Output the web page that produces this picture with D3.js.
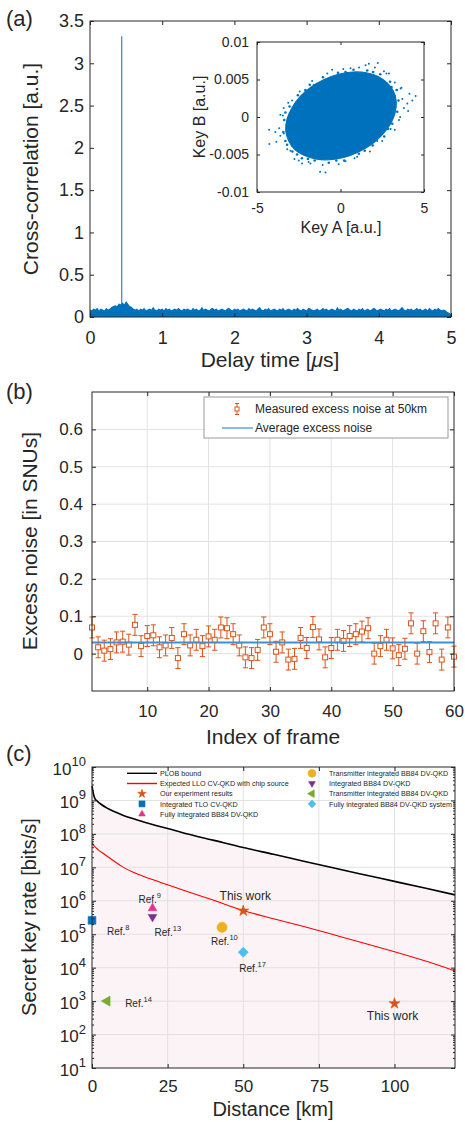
<!DOCTYPE html>
<html>
<head>
<meta charset="utf-8">
<script src="https://cdn.jsdelivr.net/npm/d3@7"></script>
<style>
  body { margin: 0; background: #fff; }
  svg text { font-family: "Liberation Sans", Arial, Helvetica, sans-serif; fill: #262626; }
</style>
</head>
<body>
<svg id="fig" width="465" height="1122"></svg>
<script>
// ---------- (a) cross-correlation ----------
const delayStep = 0.025; // us between band samples
const crossCorrBand = [
  0.09,0.08,0.10,0.09,0.11,0.08,0.10,0.09,0.08,0.11,0.09,0.10,0.12,
  0.13,0.14,0.13,0.16,0.15,0.17,0.15,0.19,0.16,0.13,0.12,0.10,
  0.09,0.10,0.08,0.10,0.09,0.11,0.08,0.09,0.10,0.09,0.12,0.09,0.08,0.10,0.09,0.10,0.08,0.11,0.09,0.10,
  0.08,0.09,0.10,0.09,0.11,0.09,0.08,0.10,0.09,0.10,0.09,0.08,0.11,0.09,0.10,0.08,0.09,0.12,0.09,0.10,
  0.09,0.08,0.10,0.11,0.09,0.10,0.08,0.09,0.10,0.09,0.08,0.10,0.11,0.09,0.08,0.10,0.09,0.10,0.08,0.09,
  0.10,0.09,0.08,0.11,0.09,0.10,0.09,0.08,0.10,0.12,0.09,0.08,0.10,0.09,0.11,0.08,0.09,0.10,0.09,0.08,
  0.10,0.09,0.11,0.08,0.09,0.10,0.09,0.08,0.10,0.09,0.11,0.09,0.08,0.10,0.09,0.08,0.11,0.10,0.09,0.08,
  0.09,0.10,0.08,0.09,0.11,0.09,0.10,0.08,0.09,0.10,0.09,0.08,0.12,0.09,0.10,0.08,0.09,0.10,0.11,0.09,
  0.08,0.10,0.09,0.08,0.10,0.09,0.11,0.08,0.09,0.10,0.08,0.09,0.11,0.10,0.08,0.09,0.10,0.09,0.08,0.10,
  0.09,0.11,0.08,0.09,0.10,0.09,0.08,0.10,0.12,0.09,0.08,0.10,0.09,0.10,0.08,0.09,0.11,0.09,0.10,0.08,
  0.09,0.10,0.08,0.11,0.09,0.08,0.10,0.09,0.11,0.09,0.08,0.09,
  0.08,0.06,0.05,0.03
];
const peakDelay = 0.44;
const peakValue = 3.32;
const xTicksA = [0, 1, 2, 3, 4, 5];
const yTicksA = [0, 0.5, 1, 1.5, 2, 2.5, 3, 3.5];

// inset: outline of the dense cloud + the loose dots around it
const cloudEdge = [
  [3.18,0.0034],[3.34,0.0020],[3.26,0.0005],[2.97,-0.0010],[2.48,-0.0024],[1.82,-0.0037],
  [1.04,-0.0047],[0.19,-0.0054],[-0.67,-0.0057],[-1.48,-0.0056],[-2.19,-0.0051],[-2.75,-0.0043],
  [-3.12,-0.0031],[-3.28,-0.0018],[-3.20,-0.0003],[-2.91,0.0012],[-2.42,0.0027],[-1.76,0.0040],
  [-0.98,0.0050],[-0.13,0.0057],[0.73,0.0060],[1.54,0.0059],[2.25,0.0054],[2.81,0.0045]
];
const cloudFringe = [
  [3.36,0.0036],[3.47,0.0022],[3.40,0.0007],[3.10,-0.0009],[2.62,-0.0026],[1.93,-0.0038],
  [1.10,-0.0049],[0.22,-0.0058],[-0.70,-0.0061],[-1.55,-0.0058],[-2.31,-0.0055],[-2.88,-0.0046],
  [-3.30,-0.0032],[-3.42,-0.0020],[-3.37,-0.0004],[-3.05,0.0014],[-2.55,0.0029],[-1.84,0.0043],
  [-1.05,0.0053],[-0.15,0.0059],[0.78,0.0063],[1.60,0.0062],[2.38,0.0057],[2.97,0.0047],
  [3.25,0.0028],[2.85,-0.0016],[1.45,-0.0045],[-0.25,-0.0058],[-1.95,-0.0056],[-3.20,-0.0037],
  [-3.30,0.0006],[-2.10,0.0036],[0.30,0.0060],[1.95,0.0060],[3.05,0.0040],[-2.60,-0.0050]
];
const cloudOutliers = [
  [3.65,0.0039],[4.13,0.0031],[4.0,0.0018],[3.57,0.0000],[3.25,-0.0017],[2.5,-0.0032],[1.76,-0.0046],
  [0.84,-0.0055],[-0.11,-0.0063],[-1.07,-0.0064],[-1.22,-0.0073],[-1.91,-0.0060],[-2.76,-0.0056],
  [-3.19,-0.0043],[-3.84,-0.0033],[-4.26,-0.0036],[-3.67,-0.0015],[-4.27,-0.0017],[-3.45,0.0002],
  [-3.13,0.0019],[-2.44,0.0034],[-1.7,0.0048],[-0.79,0.0058],[0.17,0.0064],[1.11,0.0066],[2.06,0.0066],
  [2.23,0.0072],[2.75,0.0058],[3.25,0.0046],[4.5,0.0028],[4.05,0.0008],[-0.9,-0.0074],[1.7,0.0071],
  [-3.9,-0.0020],[-3.6,0.0003],[-3.4,0.0012],[-2.5,-0.0058],[-2.3,-0.0062],[-1.6,0.0043],[-0.5,0.0063],
  [0.6,0.0065],[1.5,0.0069],[2.9,0.0058],[3.6,0.0038],[3.7,0.0024],[3.8,0.0012],[4.3,0.0022],
  [3.5,-0.0004],[3.0,-0.0016],[2.2,-0.0032],[1.0,-0.0053],[0.3,-0.0059],[-1.8,-0.0062],[-2.9,0.0022],
  [-3.6,-0.0025],[-3.0,-0.0045],[-2.1,0.0035],[3.4,0.0036],[2.6,0.0061],[-3.4,-0.0022]
];
const insetXTicks = [-5, 0, 5];
const insetYTicks = [-0.01, -0.005, 0, 0.005, 0.01];

// ---------- (b) excess noise per frame ----------
const frameNoise = [
  0.070,0.017,0.008,0.012,0.030,0.032,0.024,0.077,0.020,0.047,
  0.049,0.017,0.022,0.042,-0.012,0.052,0.022,0.037,0.020,0.046,
  0.037,0.070,0.068,0.052,0.022,-0.010,-0.012,0.010,0.070,0.052,
  0.005,0.030,-0.016,-0.014,0.042,0.015,0.071,0.038,-0.010,0.015,
  0.037,0.034,0.047,0.052,0.059,0.068,0.000,0.020,0.037,0.014,
  -0.004,0.013,0.081,0.000,0.060,0.004,0.081,-0.016,0.070,-0.008
];
const noiseError = 0.028;
const averageNoise = 0.030;
const xTicksB = [10, 20, 30, 40, 50, 60];
const yTicksB = [0, 0.1, 0.2, 0.3, 0.4, 0.5, 0.6];

// ---------- (c) secret key rate vs distance ----------
const plobBound = [
  [0,2.7e9],[0.3,1.9e9],[0.6,1.4e9],[1,1.12e9],[1.5,1.0e9],[2,9.1e8],[3,7.7e8],[5,5.9e8],[7.5,4.6e8],
  [10,3.7e8],[15,2.6e8],[20,1.9e8],[25,1.45e8],[30,1.08e8],[40,6.5e7],[50,3.9e7],[60,2.45e7],
  [70,1.52e7],[80,9.5e6],[90,6.0e6],[100,3.8e6],[110,2.4e6],[120,1.5e6]
];
const expectedLLO = [
  [0,5.5e7],[0.5,4.6e7],[1,4.1e7],[2,3.4e7],[4,2.5e7],[7,1.6e7],[10,1.05e7],[15,6.3e6],[20,4.3e6],
  [25,3.0e6],[30,2.1e6],[40,1.05e6],[50,5.1e5],[60,2.9e5],[70,1.7e5],[80,9.6e4],[90,5.4e4],
  [100,3.0e4],[110,1.6e4],[120,8.0e3]
];
const thisWork = [[50, 5.0e5], [100, 8.5e2]];
const refPoints = [
  { ref: "8",  km: 0,  rate: 2.6e5, kind: "square",   color: "#0072BD" },
  { ref: "9",  km: 20, rate: 6.0e5, kind: "triUp",    color: "#E8318A" },
  { ref: "13", km: 20, rate: 3.3e5, kind: "triDown",  color: "#7E2F8E" },
  { ref: "10", km: 43, rate: 1.6e5, kind: "circle",   color: "#EDB120" },
  { ref: "17", km: 50, rate: 2.9e4, kind: "diamond",  color: "#4DBEEE" },
  { ref: "14", km: 5,  rate: 1.0e3, kind: "triLeft",  color: "#77AC30" }
];
const legendC = [
  { text: "PLOB bound", kind: "line", color: "#000000" },
  { text: "Expected LLO CV-QKD with chip source", kind: "line", color: "#FF0000" },
  { text: "Our experiment results", kind: "star", color: "#D95319" },
  { text: "Integrated TLO CV-QKD", kind: "square", color: "#0072BD" },
  { text: "Fully integrated BB84 DV-QKD", kind: "triUp", color: "#E8318A" },
  { text: "Transmitter integrated BB84 DV-QKD", kind: "circle", color: "#EDB120" },
  { text: "Integrated BB84 DV-QKD", kind: "triDown", color: "#7E2F8E" },
  { text: "Transmitter integrated BB84 DV-QKD", kind: "triLeft", color: "#77AC30" },
  { text: "Fully integrated BB84 DV-QKD system", kind: "diamond", color: "#4DBEEE" }
];
const xTicksC = [0, 25, 50, 75, 100];
const yExpC = [1, 2, 3, 4, 5, 6, 7, 8, 9, 10];

// ---------------------------------------------------------------
const INK = "#262626";
const GRID = "#e2e2e2";
const BLUE = "#0072BD";
const ORANGE = "#D95319";
const svg = d3.select("#fig");

// inward ticks on all four sides, labels on bottom and left, closed box
function frame(g, x, y, o) {
  const [xl, xr] = x.range();
  const [yb, yt] = y.range();
  const t = o.tick || 4;
  const bottom = g.append("g").attr("transform", `translate(0,${yb})`)
    .call(d3.axisBottom(x).tickValues(o.xTicks).tickSizeInner(-t).tickSizeOuter(0)
      .tickPadding(o.xPad).tickFormat(o.xLabels === false ? () => "" : (o.xFormat || String)));
  const left = g.append("g").attr("transform", `translate(${xl},0)`)
    .call(d3.axisLeft(y).tickValues(o.yTicks).tickSizeInner(-t).tickSizeOuter(0)
      .tickPadding(o.yPad).tickFormat(o.yLabels === false ? () => "" : (o.yFormat || String)));
  g.append("g").attr("transform", `translate(0,${yt})`)
    .call(d3.axisTop(x).tickValues(o.xTicks).tickSizeInner(-t).tickSizeOuter(0).tickFormat(() => ""));
  g.append("g").attr("transform", `translate(${xr},0)`)
    .call(d3.axisRight(y).tickValues(o.yTicks).tickSizeInner(-t).tickSizeOuter(0).tickFormat(() => ""));
  g.selectAll(".domain").remove();
  g.selectAll(".tick line").attr("stroke", INK);
  bottom.attr("font-size", o.font).attr("font-family", null);
  left.attr("font-size", o.font).attr("font-family", null);
  g.append("rect").attr("x", xl).attr("y", yt).attr("width", xr - xl).attr("height", yb - yt)
    .attr("fill", "none").attr("stroke", INK).attr("stroke-width", 1);
}

function yLabel(g, text, cx, cy, size) {
  g.append("text").attr("transform", `translate(${cx},${cy}) rotate(-90)`)
    .attr("text-anchor", "middle").attr("dy", "0.35em").attr("font-size", size).text(text);
}

function symbolPath(kind, size) {
  const map = {
    square: d3.symbolSquare, diamond: d3.symbolSquare, circle: d3.symbolCircle, star: d3.symbolStar,
    triUp: d3.symbolTriangle, triDown: d3.symbolTriangle, triLeft: d3.symbolTriangle
  };
  return d3.symbol(map[kind], size)();
}
const symbolTurn = { diamond: 45, triDown: 180, triLeft: -90 };
const symbolSize = { square: 60, diamond: 50, circle: 80, star: 38, triUp: 32, triDown: 32, triLeft: 44 };

function drawSymbol(g, kind, color, cx, cy, scale = 1) {
  g.append("path").attr("d", symbolPath(kind, symbolSize[kind] * scale))
    .attr("transform", `translate(${cx},${cy}) rotate(${symbolTurn[kind] || 0})`)
    .attr("fill", color).attr("stroke", color).attr("stroke-width", 0.6);
}

// ================= (a) =================
const gA = svg.append("g");
const xA = d3.scaleLinear().domain([0, 5]).range([90, 451]);
const yA = d3.scaleLinear().domain([0, 3.5]).range([317, 21]);

gA.append("path").datum(crossCorrBand)
  .attr("d", d3.area().x((d, i) => xA(i * delayStep)).y0(yA(0)).y1(d => yA(d)))
  .attr("fill", BLUE);
gA.append("line").attr("x1", xA(peakDelay)).attr("x2", xA(peakDelay))
  .attr("y1", yA(0)).attr("y2", yA(peakValue)).attr("stroke", BLUE).attr("stroke-width", 1);

frame(gA, xA, yA, { xTicks: xTicksA, yTicks: yTicksA, xPad: 14, yPad: 6, font: 18 });

const dl = gA.append("text").attr("x", 270).attr("y", 367).attr("text-anchor", "middle").attr("font-size", 21);
dl.append("tspan").text("Delay time [");
dl.append("tspan").attr("font-style", "italic").text("\u03bc");
dl.append("tspan").text("s]");
yLabel(gA, "Cross-correlation [a.u.]", 31, 169, 21);
gA.append("text").attr("x", 6).attr("y", 26).attr("font-size", 22).text("(a)");

// inset
const gI = svg.append("g");
const xI = d3.scaleLinear().domain([-5, 5]).range([257, 424]);
const yI = d3.scaleLinear().domain([-0.01, 0.01]).range([192, 42]);
gI.append("rect").attr("x", 257).attr("y", 42).attr("width", 167).attr("height", 150).attr("fill", "#fff");
gI.append("path").datum(cloudEdge)
  .attr("d", d3.line().x(d => xI(d[0])).y(d => yI(d[1])).curve(d3.curveCatmullRomClosed))
  .attr("fill", BLUE).attr("stroke", BLUE).attr("stroke-width", 1.2);
gI.selectAll("circle.fr").data(cloudFringe).join("circle")
  .attr("cx", d => xI(d[0])).attr("cy", d => yI(d[1])).attr("r", 1.3).attr("fill", BLUE);
gI.selectAll("circle.out").data(cloudOutliers, d => d).join("circle")
  .attr("cx", d => xI(d[0])).attr("cy", d => yI(d[1])).attr("r", 1).attr("fill", BLUE);
frame(gI, xI, yI, { xTicks: insetXTicks, yTicks: insetYTicks, xPad: 11, yPad: 8, font: 14, tick: 3 });
gI.append("text").attr("x", 341).attr("y", 233).attr("text-anchor", "middle").attr("font-size", 16).text("Key A [a.u.]");
yLabel(gI, "Key B [a.u.]", 199, 117, 16);

// ================= (b) =================
const gB = svg.append("g");
const xB = d3.scaleLinear().domain([1, 60]).range([92, 454]);
const yB = d3.scaleLinear().domain([-0.1, 0.7]).range([691, 392]);

gB.selectAll("line.gx").data(xTicksB.slice(0, -1)).join("line")
  .attr("x1", d => xB(d)).attr("x2", d => xB(d)).attr("y1", 392).attr("y2", 691).attr("stroke", GRID);
gB.selectAll("line.gy").data(yTicksB).join("line")
  .attr("x1", 92).attr("x2", 454).attr("y1", d => yB(d)).attr("y2", d => yB(d)).attr("stroke", GRID);

const bars = gB.append("g").attr("stroke", ORANGE).attr("stroke-width", 1).attr("fill", "none");
frameNoise.forEach((v, i) => {
  const cx = xB(i + 1), top = yB(v + noiseError), bot = yB(v - noiseError);
  bars.append("line").attr("x1", cx).attr("x2", cx).attr("y1", top).attr("y2", yB(v) - 2.5);
  bars.append("line").attr("x1", cx).attr("x2", cx).attr("y1", yB(v) + 2.5).attr("y2", bot);
  bars.append("line").attr("x1", cx - 2.6).attr("x2", cx + 2.6).attr("y1", top).attr("y2", top);
  bars.append("line").attr("x1", cx - 2.6).attr("x2", cx + 2.6).attr("y1", bot).attr("y2", bot);
  bars.append("rect").attr("x", cx - 2.5).attr("y", yB(v) - 2.5).attr("width", 5).attr("height", 5);
});
gB.append("line").attr("x1", xB(1)).attr("x2", xB(60))
  .attr("y1", yB(averageNoise)).attr("y2", yB(averageNoise)).attr("stroke", "#3d8fd0").attr("stroke-width", 2);

frame(gB, xB, yB, { xTicks: xTicksB, yTicks: yTicksB, xPad: 14, yPad: 9, font: 17 });

// legend (b)
const lgB = gB.append("g");
lgB.append("rect").attr("x", 204).attr("y", 397).attr("width", 244).attr("height", 41)
  .attr("fill", "#fff").attr("stroke", "#9a9a9a").attr("stroke-width", 1);
const lm = lgB.append("g").attr("stroke", ORANGE).attr("fill", "none");
lm.append("line").attr("x1", 237).attr("x2", 237).attr("y1", 403.5).attr("y2", 414.5);
lm.append("line").attr("x1", 235).attr("x2", 239).attr("y1", 403.5).attr("y2", 403.5);
lm.append("line").attr("x1", 235).attr("x2", 239).attr("y1", 414.5).attr("y2", 414.5);
lm.append("rect").attr("x", 235).attr("y", 407).attr("width", 4).attr("height", 4).attr("fill", "#fff");
lgB.append("line").attr("x1", 222).attr("x2", 253).attr("y1", 428).attr("y2", 428)
  .attr("stroke", "#3d8fd0").attr("stroke-width", 1.2);
lgB.append("text").attr("x", 255).attr("y", 413).attr("font-size", 12).text("Measured excess noise at 50km");
lgB.append("text").attr("x", 255).attr("y", 432).attr("font-size", 12).text("Average excess noise");

gB.append("text").attr("x", 273).attr("y", 744).attr("text-anchor", "middle").attr("font-size", 21).text("Index of frame");
yLabel(gB, "Excess noise [in SNUs]", 30, 541, 21);
gB.append("text").attr("x", 6).attr("y", 399).attr("font-size", 22).text("(b)");

// ================= (c) =================
const gC = svg.append("g");
const xC = d3.scaleLinear().domain([0, 120]).range([92, 455]);
const yC = d3.scaleLog().domain([10, 1e10]).range([1068, 767]);
const kmRate = d3.line().x(d => xC(d[0])).y(d => yC(d[1])).curve(d3.curveMonotoneX);

gC.append("path").datum(plobBound)
  .attr("d", d3.area().x(d => xC(d[0])).y0(yC(10)).y1(d => yC(d[1])).curve(d3.curveMonotoneX))
  .attr("fill", "#fbf3f5");
gC.selectAll("line.gx").data(xTicksC.slice(1)).join("line")
  .attr("x1", d => xC(d)).attr("x2", d => xC(d)).attr("y1", 767).attr("y2", 1068).attr("stroke", GRID);
gC.selectAll("line.gy").data(yExpC.slice(1, -1)).join("line")
  .attr("x1", 92).attr("x2", 455).attr("y1", d => yC(10 ** d)).attr("y2", d => yC(10 ** d)).attr("stroke", GRID);

gC.append("path").datum(plobBound).attr("d", kmRate).attr("fill", "none").attr("stroke", "#000").attr("stroke-width", 1.6);
gC.append("path").datum(expectedLLO).attr("d", kmRate).attr("fill", "none").attr("stroke", "#FF0000").attr("stroke-width", 1.1);

const refLabelOffset = { "8": [15, 15], "9": [-14, -5], "13": [2, 19], "10": [-11, 18], "17": [-4, 20], "14": [18, 5.5] };
refPoints.forEach(p => {
  const cx = xC(p.km), cy = yC(p.rate);
  drawSymbol(gC, p.kind, p.color, cx, cy);
  const [dx, dy] = refLabelOffset[p.ref];
  const t = gC.append("text").attr("x", cx + dx).attr("y", cy + dy).attr("font-size", 10);
  t.append("tspan").text("Ref.");
  t.append("tspan").attr("dy", -5).attr("font-size", 7.5).text(p.ref);
});
const workLabelOffset = [[2, -11], [-2, 17]];
thisWork.forEach((d, i) => {
  const cx = xC(d[0]), cy = yC(d[1]);
  drawSymbol(gC, "star", ORANGE, cx, cy);
  gC.append("text").attr("x", cx + workLabelOffset[i][0]).attr("y", cy + workLabelOffset[i][1])
    .attr("text-anchor", "middle").attr("font-size", 12).text("This work");
});

// box + ticks (minor ticks on the log axis)
const minorC = [];
yExpC.slice(0, -1).forEach(e => { for (let m = 2; m <= 9; m++) minorC.push(m * 10 ** e); });
frame(gC, xC, yC, { xTicks: xTicksC, yTicks: yExpC.map(e => 10 ** e), xPad: 12, yPad: 6, font: 17, yLabels: false });
gC.append("g").attr("transform", "translate(92,0)")
  .call(d3.axisLeft(yC).tickValues(minorC).tickSizeInner(-2).tickSizeOuter(0).tickFormat(() => ""))
  .call(a => a.select(".domain").remove()).selectAll("line").attr("stroke", INK);
gC.append("g").attr("transform", "translate(455,0)")
  .call(d3.axisRight(yC).tickValues(minorC).tickSizeInner(-2).tickSizeOuter(0).tickFormat(() => ""))
  .call(a => a.select(".domain").remove()).selectAll("line").attr("stroke", INK);

yExpC.forEach(e => {
  const t = gC.append("text").attr("x", 86).attr("y", yC(10 ** e) + 7.5).attr("text-anchor", "end").attr("font-size", 17);
  t.append("tspan").text("10");
  t.append("tspan").attr("dy", -8.5).attr("font-size", 13).text(e);
});

// legend (c), two columns, no frame
const lgC = gC.append("g");
legendC.forEach((d, i) => {
  const col = i < 5 ? 0 : 1, row = i < 5 ? i : i - 5;
  const cy = 773.3 + row * 10.2;
  const mx = col === 0 ? 142 : 312, tx = col === 0 ? 160 : 329;
  if (d.kind === "line") {
    lgC.append("line").attr("x1", 127).attr("x2", 157).attr("y1", cy).attr("y2", cy)
      .attr("stroke", d.color).attr("stroke-width", 1.4);
  } else {
    drawSymbol(lgC, d.kind, d.color, mx, cy, 0.6);
  }
  lgC.append("text").attr("x", tx).attr("y", cy + 2.6).attr("font-size", 7.2).attr("fill", "#333").text(d.text);
});

gC.append("text").attr("x", 273).attr("y", 1116).attr("text-anchor", "middle").attr("font-size", 20).text("Distance [km]");
yLabel(gC, "Secret key rate [bits/s]", 29, 917, 20);
gC.append("text").attr("x", 6).attr("y", 761).attr("font-size", 22).text("(c)");
</script>
</body>
</html>
